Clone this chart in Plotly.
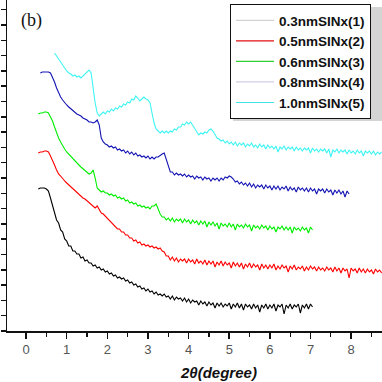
import plotly.graph_objects as go

# 2-theta scan grid (degree)
TWO_THETA = [
    0.30, 0.35, 0.40, 0.45, 0.50, 0.55, 0.60, 0.65, 0.70, 0.75,
    0.80, 0.85, 0.90, 0.95, 1.00, 1.05, 1.10, 1.15, 1.20, 1.25,
    1.30, 1.35, 1.40, 1.45, 1.50, 1.55, 1.60, 1.65, 1.70, 1.75,
    1.80, 1.85, 1.90, 1.95, 2.00, 2.05, 2.10, 2.15, 2.20, 2.25,
    2.30, 2.35, 2.40, 2.45, 2.50, 2.55, 2.60, 2.65, 2.70, 2.75,
    2.80, 2.85, 2.90, 2.95, 3.00, 3.05, 3.10, 3.15, 3.20, 3.25,
    3.30, 3.35, 3.40, 3.45, 3.50, 3.55, 3.60, 3.65, 3.70, 3.75,
    3.80, 3.85, 3.90, 3.95, 4.00, 4.05, 4.10, 4.15, 4.20, 4.25,
    4.30, 4.35, 4.40, 4.45, 4.50, 4.55, 4.60, 4.65, 4.70, 4.75,
    4.80, 4.85, 4.90, 4.95, 5.00, 5.05, 5.10, 5.15, 5.20, 5.25,
    5.30, 5.35, 5.40, 5.45, 5.50, 5.55, 5.60, 5.65, 5.70, 5.75,
    5.80, 5.85, 5.90, 5.95, 6.00, 6.05, 6.10, 6.15, 6.20, 6.25,
    6.30, 6.35, 6.40, 6.45, 6.50, 6.55, 6.60, 6.65, 6.70, 6.75,
    6.80, 6.85, 6.90, 6.95, 7.00, 7.05, 7.10, 7.15, 7.20, 7.25,
    7.30, 7.35, 7.40, 7.45, 7.50, 7.55, 7.60, 7.65, 7.70, 7.75,
    7.80, 7.85, 7.90, 7.95, 8.00, 8.05, 8.10, 8.15, 8.20, 8.25,
    8.30, 8.35, 8.40, 8.45, 8.50, 8.55, 8.60, 8.65, 8.70, 8.75,
]

LABELS = ["0.3nmSINx(1)", "0.5nmSINx(2)", "0.6nmSINx(3)", "0.8nmSINx(4)", "1.0nmSINx(5)"]
START_ANGLE = [0.30, 0.30, 0.30, 0.35, 0.70]

# intensity (a.u., offset stacked)
I_03 = [
    142, 143, 143, 143, 142, 140, 133, 125, 119, 111,
    108, 101, 99, 92, 90, 85, 85, 80, 80, 77,
    77, 73, 74, 70, 71, 68, 68, 65, 66, 63,
    64, 61, 62, 59, 60, 57, 58, 55, 56, 53,
    54, 52, 53, 50, 51, 48, 49, 46, 47, 44,
    45, 42, 43, 40, 42, 39, 40, 37, 39, 36,
    37, 35, 37, 34, 35, 32, 35, 31, 34, 32,
    33, 30, 33, 29, 32, 28, 31, 29, 30, 26,
    30, 27, 29, 25, 29, 26, 28, 23, 28, 25,
    28, 24, 27, 25, 28, 22, 27, 24, 28, 23,
    27, 21, 27, 24, 26, 22, 27, 23, 26, 19,
    26, 23, 27, 22, 26, 23, 27, 20, 26, 24,
    27, 17, 26, 23, 27, 22, 26, 24, 27, 18,
    26, 23, 27, 22, 27, 24,
]
I_05 = [
    178, 179, 179, 180, 180, 179, 175, 171, 166, 161,
    157, 155, 152, 150, 148, 146, 144, 142, 141, 139,
    137, 135, 133, 132, 130, 128, 126, 124, 123, 125,
    121, 118, 117, 115, 113, 111, 109, 106, 105, 102,
    102, 99, 99, 96, 96, 93, 93, 90, 91, 88,
    89, 86, 87, 85, 86, 84, 85, 83, 84, 82,
    83, 80, 79, 75, 75, 71, 74, 70, 73, 69,
    72, 70, 72, 68, 72, 69, 71, 67, 72, 68,
    70, 67, 71, 66, 70, 67, 70, 64, 69, 66,
    70, 65, 69, 66, 68, 63, 69, 65, 68, 64,
    68, 62, 67, 64, 68, 63, 67, 64, 66, 61,
    67, 63, 66, 62, 66, 63, 67, 61, 65, 62,
    66, 63, 65, 59, 65, 62, 66, 61, 64, 62,
    65, 60, 64, 61, 65, 62, 64, 60, 64, 61,
    63, 60, 64, 61, 63, 59, 64, 60, 63, 58,
    63, 60, 62, 53, 63, 60, 62, 58, 63, 59,
    62, 58, 62, 59, 61, 57, 62, 59, 61, 58,
]
I_06 = [
    217, 218, 218, 219, 219, 218, 214, 210, 204, 198,
    193, 189, 185, 182, 179, 177, 175, 173, 170, 168,
    166, 164, 162, 160, 158, 157, 158, 161, 153, 143,
    141, 139, 140, 138, 138, 136, 137, 135, 136, 133,
    134, 132, 133, 130, 131, 128, 129, 127, 128, 125,
    126, 124, 125, 123, 124, 122, 125, 125, 127, 122,
    117, 114, 114, 111, 113, 110, 113, 109, 112, 110,
    112, 108, 112, 109, 111, 107, 111, 108, 110, 106,
    110, 107, 110, 104, 109, 106, 109, 105, 108, 102,
    108, 105, 107, 104, 108, 104, 107, 101, 107, 104,
    106, 103, 107, 104, 106, 100, 106, 103, 105, 102,
    106, 103, 105, 101, 105, 102, 104, 99, 104, 102,
    105, 101, 104, 101, 104, 98, 104, 101, 103, 100,
    104, 101, 103, 98, 104, 101,
]
I_08 = [
    258, 259, 259, 259, 259, 258, 254, 249, 243, 238,
    234, 231, 228, 226, 224, 222, 220, 219, 217, 216,
    215, 213, 212, 211, 209, 209, 208, 209, 211, 206,
    193, 189, 187, 186, 184, 185, 183, 184, 181, 182,
    180, 181, 178, 180, 177, 179, 176, 178, 175, 176,
    174, 175, 173, 175, 172, 174, 172, 174, 174, 176,
    177, 178, 172, 164, 159, 159, 156, 158, 156, 157,
    155, 157, 154, 156, 154, 155, 152, 155, 153, 154,
    151, 154, 152, 153, 150, 153, 151, 153, 150, 153,
    151, 154, 153, 155, 154, 152, 149, 150, 147, 149,
    146, 148, 145, 148, 144, 147, 143, 146, 144, 146,
    142, 146, 143, 145, 141, 145, 142, 145, 141, 144,
    142, 145, 140, 144, 141, 143, 139, 144, 141, 143,
    140, 143, 139, 143, 140, 142, 137, 142, 140, 142,
    138, 142, 139, 141, 136, 141, 138, 141, 137, 140,
    134, 140, 137,
]
I_10 = [
    278, 275, 272, 268, 265, 262, 260, 258, 257, 255,
    256, 254, 255, 253, 255, 256, 258, 261, 258, 241,
    228, 218, 215, 217, 219, 217, 220, 219, 222, 220,
    223, 222, 225, 224, 227, 226, 229, 228, 232, 231,
    235, 233, 230, 232, 234, 232, 231, 228, 218, 208,
    202, 200, 198, 200, 198, 200, 198, 200, 199, 202,
    201, 204, 204, 207, 206, 209, 207, 209, 206, 203,
    199, 196, 198, 197, 199, 198, 201, 202, 200, 196,
    193, 192, 190, 191, 188, 190, 187, 189, 186, 189,
    185, 188, 186, 188, 184, 187, 185, 188, 184, 186,
    183, 187, 184, 186, 182, 186, 183, 185, 182, 185,
    179, 184, 182, 185, 181, 184, 182, 184, 180, 184,
    181, 183, 180, 183, 181, 183, 178, 183, 180, 182,
    179, 182, 180, 182, 178, 182, 174, 181, 179, 182,
    178, 181, 179, 181, 177, 181, 178, 180, 177, 181,
    178, 180, 175, 180, 178, 180, 177, 180, 176, 179,
    177, 179,
]
SERIES = [I_03, I_05, I_06, I_08, I_10]

LINE_COLORS = ["#000000", "#ff0000", "#00ee00", "#1414b4", "#3ef4f4"]
LEGEND_COLORS = ["#d2d2d2", "#e01010", "#30d030", "#cfcfe4", "#40e4e4"]

fig = go.Figure()

for vals, start, col in zip(SERIES, START_ANGLE, LINE_COLORS):
    i0 = TWO_THETA.index(start)
    xs = TWO_THETA[i0:i0 + len(vals)]
    fig.add_trace(go.Scatter(x=xs, y=vals, mode="lines",
                             line=dict(color=col, width=1.1),
                             showlegend=False, hoverinfo="skip"))

for name, col in zip(LABELS, LEGEND_COLORS):
    fig.add_trace(go.Scatter(x=[None], y=[None], mode="lines", name=name,
                             line=dict(color=col, width=1.2)))

W = 382
H = 382
ML, MR, MT, MB = 7, 0, 0, 51
pw = W - ML - MR
ph = H - MT - MB

def px_x(p):
    return (p - ML) / pw

def px_y(p):
    return (H - MB - p) / ph

# legend shadow
fig.add_shape(type="rect", xref="paper", yref="paper",
              x0=px_x(233), x1=px_x(392), y0=px_y(121), y1=px_y(7),
              fillcolor="#d4d4d4", line=dict(width=0), layer="above")

fig.add_annotation(text="(b)", xref="paper", yref="paper",
                   x=px_x(31), y=px_y(20), xanchor="center", yanchor="middle",
                   showarrow=False,
                   font=dict(family="Liberation Serif, DejaVu Serif, serif", size=18, color="#111"))

fig.add_annotation(text="<b><i>2θ(degree)</i></b>", xref="paper", yref="paper",
                   x=px_x(218), y=px_y(372), xanchor="center", yanchor="middle",
                   showarrow=False,
                   font=dict(family="Liberation Sans, Arial, sans-serif", size=15, color="#111"))

fig.update_layout(
    template="none",
    width=W, height=H,
    margin=dict(l=ML, r=MR, t=MT, b=MB, pad=0, autoexpand=False),
    paper_bgcolor="white", plot_bgcolor="white",
    legend=dict(x=px_x(230), y=px_y(4), xanchor="left", yanchor="top",
                bgcolor="white", bordercolor="#111", borderwidth=1,
                font=dict(family="Liberation Sans, Arial, sans-serif", size=13.5, color="#111", weight="bold"),
                itemwidth=38, tracegroupgap=0),
    xaxis=dict(range=[-0.47, 8.76], showline=True, linecolor="#111", linewidth=1.5,
               automargin=False,
               showgrid=False, zeroline=False, ticks="outside", ticklen=6, tickwidth=1.5,
               tickcolor="#111", tickmode="array", tickvals=[0, 1, 2, 3, 4, 5, 6, 7, 8],
               tickfont=dict(family="Liberation Sans, Arial, sans-serif", size=13, color="#555"),
               minor=dict(ticks="outside", ticklen=4, tickwidth=1.2, tickcolor="#111", dtick=0.5, tick0=0, showgrid=False)),
    yaxis=dict(range=[0, ph], showline=True, linecolor="#111", linewidth=1.5,
               automargin=False,
               showgrid=False, zeroline=False, ticks="outside", ticklen=5, tickwidth=1.5,
               tickcolor="#111", tick0=0, dtick=15.3, showticklabels=False),
)

fig.write_html("out.html",
               config={"displayModeBar": False, "staticPlot": True},
               post_script="document.body.style.margin='0';document.body.style.overflow='hidden';")
